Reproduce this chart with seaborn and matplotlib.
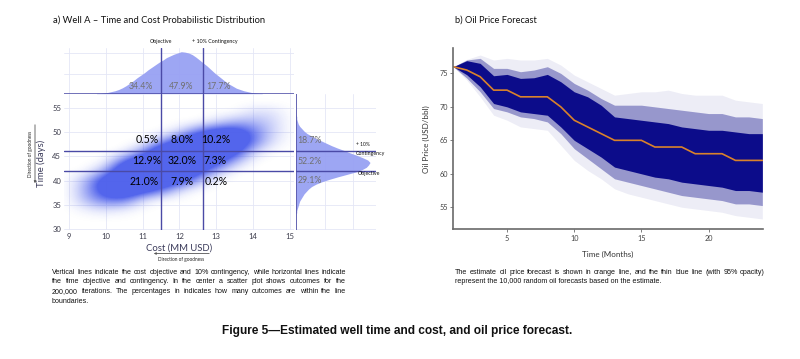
import numpy as np
import pandas as pd
import matplotlib.pyplot as plt
import seaborn as sns
from matplotlib.colors import ListedColormap, to_rgb
from matplotlib.patches import FancyArrowPatch
from matplotlib import font_manager as fm

W, H = 800, 359

# ---- panel a: marginal histograms (relative heights)
cost_edges = np.round(np.arange(9.7, 14.31, 0.1), 2)
cost_centers = (cost_edges[:-1] + cost_edges[1:]) / 2
cost_hist = [0.01, 0.01, 0.02, 0.03, 0.05, 0.07, 0.10, 0.14, 0.19, 0.25,
             0.31, 0.38, 0.44, 0.50, 0.57, 0.63, 0.69, 0.75, 0.80, 0.86,
             0.90, 0.94, 0.97, 1.00, 0.99, 0.97, 0.93, 0.87, 0.80, 0.73,
             0.66, 0.58, 0.50, 0.43, 0.36, 0.29, 0.23, 0.18, 0.13, 0.10,
             0.07, 0.05, 0.03, 0.02, 0.01, 0.01]

time_edges = np.arange(33.0, 54.01, 0.5)
time_centers = (time_edges[:-1] + time_edges[1:]) / 2
time_hist = [0.01, 0.01, 0.02, 0.03, 0.04, 0.05, 0.07, 0.09, 0.11, 0.14,
             0.17, 0.21, 0.27, 0.35, 0.45, 0.56, 0.68, 0.80, 0.89, 0.95,
             0.98, 1.00, 0.97, 0.90, 0.82, 0.73, 0.65, 0.56, 0.48, 0.41,
             0.34, 0.27, 0.21, 0.15, 0.11, 0.08, 0.05, 0.03, 0.02, 0.01,
             0.01, 0.00]

# scatter cloud density (visual), cost 9.0..15.0 step 0.5, time 56 (top) .. 30
cloud_cost = np.arange(9.0, 15.01, 0.5)
cloud_time = np.arange(56, 29, -2)
cloud = [
    [0, 0, 0, 0, 0, 0, 0, 0, 0, 0, 0, 0, 0],
    [0, 0, 0, 0, 0, 0, 0, 0, 0, 0, 0.1, 0.1, 0],
    [0, 0, 0, 0, 0, 0, 0, 0, 0.1, 0.25, 0.25, 0.15, 0],
    [0, 0, 0, 0, 0, 0, 0.1, 0.45, 0.7, 0.7, 0.45, 0.15, 0],
    [0, 0, 0, 0, 0, 0.25, 0.7, 0.9, 0.95, 0.9, 0.45, 0.1, 0],
    [0, 0, 0, 0, 0.25, 0.9, 1, 1, 1, 0.7, 0.15, 0, 0],
    [0, 0, 0, 0.45, 0.9, 1, 1, 1, 0.7, 0.25, 0, 0, 0],
    [0, 0, 0.25, 0.9, 1, 1, 1, 0.7, 0.25, 0, 0, 0, 0],
    [0, 0.25, 0.7, 0.9, 1, 0.9, 0.7, 0.25, 0, 0, 0, 0, 0],
    [0, 0.3, 0.7, 0.9, 0.7, 0.45, 0.1, 0, 0, 0, 0, 0, 0],
    [0, 0.25, 0.45, 0.45, 0.1, 0, 0, 0, 0, 0, 0, 0, 0],
    [0, 0.05, 0.1, 0.05, 0, 0, 0, 0, 0, 0, 0, 0, 0],
    [0, 0, 0, 0, 0, 0, 0, 0, 0, 0, 0, 0, 0],
    [0, 0, 0, 0, 0, 0, 0, 0, 0, 0, 0, 0, 0],
]

cost_obj, cost_cont = 11.5, 12.65
time_obj, time_cont = 42.0, 46.2
cost_ticks = [9, 10, 11, 12, 13, 14, 15]
time_ticks = [30, 35, 40, 45, 50, 55]

# quadrant percentages (label, cost, time)
quad_labels = [("0.5%", 11.12, 48.5), ("8.0%", 12.07, 48.5), ("10.2%", 13.0, 48.5),
               ("12.9%", 11.1, 44.2), ("32.0%", 12.07, 44.2), ("7.3%", 12.97, 44.2),
               ("21.0%", 11.05, 39.9), ("7.9%", 12.07, 39.9), ("0.2%", 13.0, 39.9)]
cost_pct = [("34.4%", 10.95), ("47.9%", 12.05), ("17.7%", 13.05)]
time_pct = [("18.7%", 48.3), ("52.2%", 44.0), ("29.1%", 40.0)]

# ---- panel b: oil price forecast
months = list(range(1, 25))
estimate = [76, 75.5, 74.5, 72.5, 72.5, 71.5, 71.5, 71.5, 70, 68, 67, 66,
            65, 65, 65, 64, 64, 64, 63, 63, 63, 62, 62, 62]
core_hi = [76, 76.9, 76.5, 74.65, 74.85, 74.25, 74.35, 74.85, 73.75, 72.25, 71.5, 70.25,
           68.5, 68.25, 68, 67.75, 67.5, 67, 66.75, 66.5, 66.5, 66.25, 66, 66]
core_lo = [76, 74.8, 73, 70.5, 70, 69.25, 69, 68.75, 67, 65, 63.75, 62.5,
           61, 60.5, 60, 59.5, 59.25, 58.75, 58.5, 58.25, 58, 57.5, 57.5, 57.25]
mid_hi = [76, 77.0, 77.25, 75.75, 75.75, 75.25, 75.5, 76, 75, 73.5, 72.5, 71.25,
          70.25, 70.25, 70.25, 70, 69.75, 69.5, 69.25, 69, 69, 68.5, 68.5, 68.25]
mid_lo = [76, 74.3, 72.25, 69.75, 69.25, 68.5, 68.25, 67.75, 66, 63.75, 62.25, 60.75,
          59.25, 58.75, 58.25, 57.75, 57.25, 56.75, 56.5, 56.25, 56, 55.5, 55.5, 55.25]
faint_hi = [76, 77.1, 77.75, 77, 77.25, 77, 77, 77.25, 76.25, 74.75, 73.75, 72.75,
            71.75, 72, 72.25, 72.25, 72.5, 72, 71.75, 71.75, 71.75, 71, 70.75, 70.5]
faint_lo = [76, 74.0, 71.5, 68.75, 68, 67, 66.75, 66.5, 64.25, 62, 60.5, 59.25,
            57.75, 57, 56.5, 56, 55.5, 55, 54.75, 54.5, 54.25, 53.75, 53.5, 53.25]

cost_df = pd.DataFrame({'cost': cost_centers, 'w': cost_hist})
time_df = pd.DataFrame({'time': time_centers, 'w': time_hist})

sns.set_theme(style="white")
names = {f.name for f in fm.fontManager.ttflist}
plt.rcParams['font.family'] = ['Lato', 'DejaVu Sans']
cap_font = 'Liberation Sans Narrow' if 'Liberation Sans Narrow' in names else 'Liberation Sans'

fig = plt.figure(figsize=(W / 100, H / 100), dpi=100)
fig.patch.set_facecolor('white')


def box(l, t, r, b):
    return fig.add_axes([l / W, 1 - b / H, (r - l) / W, (b - t) / H])


def ftext(x, y, s, **kw):
    return fig.text(x / W, 1 - y / H, s, **kw)


def fit(t, width):
    r = fig.canvas.get_renderer()
    w = t.get_window_extent(r).width
    t.set_fontsize(t.get_fontsize() * width / w)


LINE = '#4a4aa6'
HIST = '#98a1f3'
GRID = '#e4e6f6'
BLUE = '#4a5deb'
NAVY = '#0c0c8a'

ax_top = box(64, 48, 294, 93.7)
ax_main = box(64, 93.7, 294, 230)
ax_right = box(296, 93.7, 376, 230)

for ax in (ax_top, ax_main, ax_right):
    for s in ax.spines.values():
        s.set_visible(False)
    ax.set_facecolor('none')

# top marginal
sns.histplot(data=cost_df, x='cost', weights='w', bins=list(cost_edges), element='poly',
             fill=True, color=HIST, alpha=0.95, linewidth=0, ax=ax_top)
ax_top.set_xlim(8.864, 15.114)
ax_top.set_ylim(0, 1.088)
ax_top.set_xticks(cost_ticks)
ax_top.set_yticks([0.46, 0.96])
ax_top.grid(True, color=GRID, lw=0.6, zorder=0)
ax_top.tick_params(length=0, labelbottom=False, labelleft=False)
ax_top.set_xlabel('')
ax_top.set_ylabel('')
ax_top.axhline(0, color=LINE, lw=1.1)
for c in (cost_obj, cost_cont):
    ax_top.axvline(c, color=LINE, lw=1.0)
for s, c in cost_pct:
    ax_top.text(c, 0.17, s, ha='center', va='center', fontsize=6.3, color='#707070')

# right marginal
sns.histplot(data=time_df, y='time', weights='w', bins=list(time_edges), element='poly',
             fill=True, color=HIST, alpha=0.95, linewidth=0, ax=ax_right)
ax_right.set_ylim(29.73, 58.04)
ax_right.set_xlim(0, 1.081)
ax_right.set_yticks(time_ticks)
ax_right.set_xticks([0.39, 0.77])
ax_right.grid(True, color=GRID, lw=0.6, zorder=0)
ax_right.tick_params(length=0, labelbottom=False, labelleft=False)
ax_right.set_xlabel('')
ax_right.set_ylabel('')
ax_right.axvline(0, color=LINE, lw=1.2)
for t in (time_obj, time_cont):
    ax_right.axhline(t, color=LINE, lw=1.0)
for s, t in time_pct:
    ax_right.text(0.02, t, s, ha='left', va='center', fontsize=6.3, color='#707070')

# main scatter density
rgb = to_rgb(BLUE)
ramp = np.clip(np.linspace(0, 1, 256) * 1.9, 0, 0.95)
cmap = ListedColormap([(rgb[0], rgb[1], rgb[2], a) for a in ramp])
ax_main.imshow(cloud, extent=[cloud_cost[0] - 0.25, cloud_cost[-1] + 0.25,
                              cloud_time[-1] - 1, cloud_time[0] + 1],
               origin='upper', cmap=cmap, vmin=0, vmax=1, interpolation='bicubic',
               aspect='auto', zorder=1)
ax_main.set_xlim(8.864, 15.114)
ax_main.set_ylim(29.73, 58.04)
ax_main.set_xticks(cost_ticks)
ax_main.set_yticks(time_ticks)
ax_main.grid(True, color=GRID, lw=0.6)
ax_main.set_axisbelow(True)
ax_main.tick_params(length=0, labelsize=5.5, labelcolor='#3a3a4a', pad=2)
for c in (cost_obj, cost_cont):
    ax_main.axvline(c, color=LINE, lw=1.0, zorder=3)
for t in (time_obj, time_cont):
    ax_main.axhline(t, color=LINE, lw=1.0, zorder=3)
for s, c, t in quad_labels:
    ax_main.text(c, t, s, ha='center', va='center', fontsize=7.6, color='black', zorder=4)

# annotations around panel a
ta = ftext(53, 20, "a) Well A \u2013 Time and Cost Probabilistic Distribution",
           fontsize=7.6, va='center', ha='left', color='#111111')
fit(ta, 212)
ftext(161, 42, "Objective", fontsize=3.8, ha='center', va='center', color='#111111')
ftext(215, 42, "+ 10% Contingency", fontsize=3.8, ha='center', va='center', color='#111111')
ftext(356, 145, "+ 10%", fontsize=3.6, ha='left', va='center', color='#111111')
ftext(356, 153, "Contingency", fontsize=3.8, ha='left', va='center', color='#111111')
ftext(358, 174, "Objective", fontsize=3.8, ha='left', va='center', color='#111111')

ftext(179, 248, "Cost (MM USD)", fontsize=6.8, ha='center', va='center', color='#3a3a5a')
fig.add_artist(FancyArrowPatch((212 / W, 1 - 253.5 / H), (151 / W, 1 - 253.5 / H),
                               arrowstyle='-|>', mutation_scale=3, lw=0.6,
                               color='#555555', transform=fig.transFigure))
ftext(181, 259.5, "Direction of goodness", fontsize=3.4, ha='center', va='center',
      color='#222222')

ftext(41.5, 163, "Time (days)", fontsize=6.8, ha='center', va='center', rotation=90,
      color='#3a3a5a')
fig.add_artist(FancyArrowPatch((35 / W, 1 - 122 / H), (35 / W, 1 - 186 / H),
                               arrowstyle='-|>', mutation_scale=3, lw=0.6,
                               color='#555555', transform=fig.transFigure))
ftext(30.5, 154, "Direction of goodness", fontsize=3.4, ha='center', va='center',
      rotation=90, color='#222222')

# ---- panel b
ax_b = box(453.3, 48.3, 763, 229)
ax_b.fill_between(months, faint_lo, faint_hi, color=NAVY, alpha=0.07, lw=0)
ax_b.fill_between(months, mid_lo, mid_hi, color=NAVY, alpha=0.38, lw=0)
ax_b.fill_between(months, core_lo, core_hi, color=NAVY, alpha=1.0, lw=0)
sns.lineplot(x=months, y=estimate, color='#d9822b', lw=1.2, ax=ax_b)
ax_b.set_xlim(1, 24.05)
ax_b.set_ylim(51.75, 78.75)
ax_b.set_xticks([5, 10, 15, 20])
ax_b.set_yticks([55, 60, 65, 70, 75])
for side in ('top', 'right'):
    ax_b.spines[side].set_visible(False)
for side in ('left', 'bottom'):
    ax_b.spines[side].set_color('#6a6a6a')
    ax_b.spines[side].set_linewidth(1.2)
ax_b.tick_params(length=2, width=0.6, color='#6a6a6a', labelsize=5.2,
                 labelcolor='#444444', pad=2, bottom=True, left=True)
ax_b.set_xlabel("Time (Months)", fontsize=5.8, color='#333333', labelpad=7)
ax_b.set_ylabel("Oil Price (USD/bbl)", fontsize=5.8, color='#333333', labelpad=7)
tb = ftext(455, 20, "b) Oil Price Forecast", fontsize=7.6, va='center', ha='left',
           color='#111111')
fit(tb, 82)


# ---- captions
def justify(lines, x0, x1, y0, dy, size):
    r = fig.canvas.get_renderer()
    kw = dict(fontsize=size, family=cap_font, va='baseline', color='#111111')
    for i, line in enumerate(lines):
        y = y0 + i * dy + 2.5
        if i == len(lines) - 1:
            ftext(x0, y, line, **kw)
            continue
        words = line.split()
        ts = [ftext(0, y, w, **kw) for w in words]
        widths = [t.get_window_extent(r).width for t in ts]
        gap = (x1 - x0 - sum(widths)) / (len(words) - 1)
        x = x0
        for t, w in zip(ts, widths):
            t.set_x(x / W)
            x += w + gap


left_caption = [
    "Vertical lines indicate the cost objective and 10% contingency, while horizontal lines indicate",
    "the time objective and contingency. In the center a scatter plot shows outcomes for the",
    "200,000 iterations. The percentages in indicates how many outcomes are within the line",
    "boundaries.",
]
right_caption = [
    "The estimate oil price forecast is shown in orange line, and the thin blue line (with 95% opacity)",
    "represent the 10,000 random oil forecasts based on the estimate.",
]
probe = ftext(0, 0, left_caption[0], fontsize=10, family=cap_font)
fit(probe, 290)
cap_size = probe.get_fontsize()
probe.remove()
justify(left_caption, 52, 346, 271, 9.7, cap_size)
justify(right_caption, 455, 765, 271, 9.7, cap_size)

fig_title = ftext(397, 331, "Figure 5\u2014Estimated well time and cost, and oil price forecast.",
                  fontsize=10, family=cap_font, weight='bold', ha='center', va='center',
                  color='#111111')
fit(fig_title, 352)

fig.savefig('out.png', dpi=100, facecolor='white')
